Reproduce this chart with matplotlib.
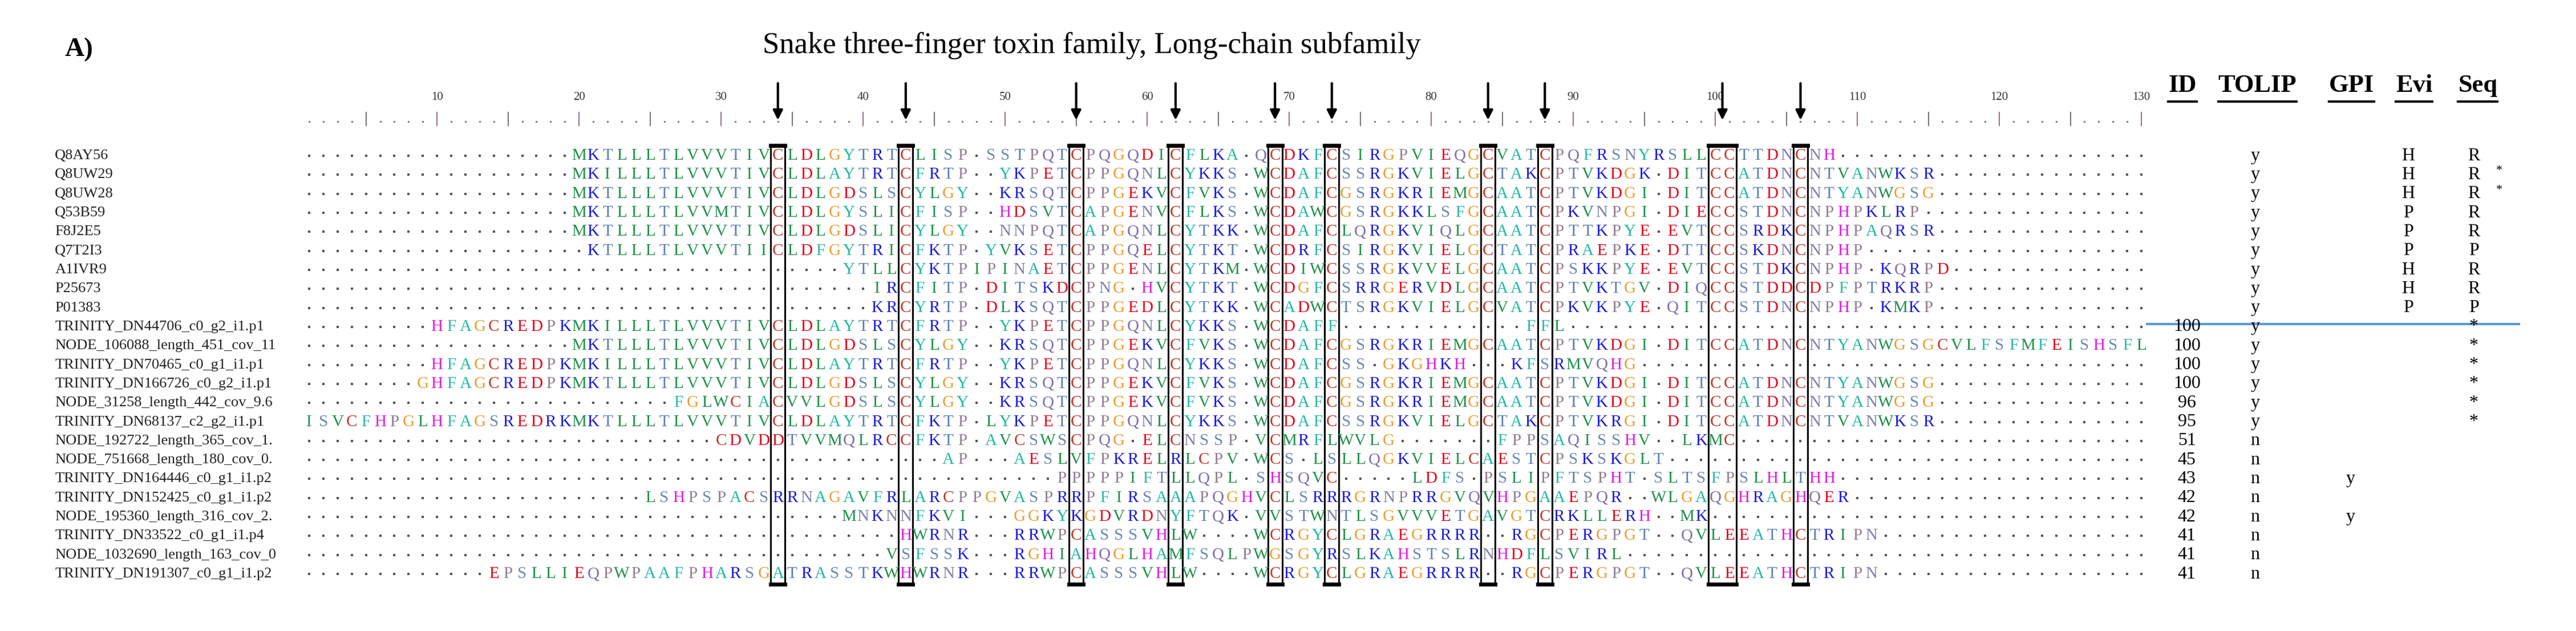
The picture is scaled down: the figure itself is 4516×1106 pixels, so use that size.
import matplotlib.pyplot as plt
from matplotlib.patches import Rectangle

plt.rcParams['font.family'] = ['Liberation Serif', 'DejaVu Serif']

title = "Snake three-finger toxin family, Long-chain subfamily"
panel = "A)"

names = [
    "Q8AY56", "Q8UW29", "Q8UW28", "Q53B59", "F8J2E5", "Q7T2I3", "A1IVR9", "P25673", "P01383",
    "TRINITY_DN44706_c0_g2_i1.p1", "NODE_106088_length_451_cov_11",
    "TRINITY_DN70465_c0_g1_i1.p1", "TRINITY_DN166726_c0_g2_i1.p1",
    "NODE_31258_length_442_cov_9.6", "TRINITY_DN68137_c2_g2_i1.p1",
    "NODE_192722_length_365_cov_1.", "NODE_751668_length_180_cov_0.",
    "TRINITY_DN164446_c0_g1_i1.p2", "TRINITY_DN152425_c0_g1_i1.p2",
    "NODE_195360_length_316_cov_2.", "TRINITY_DN33522_c0_g1_i1.p4",
    "NODE_1032690_length_163_cov_0", "TRINITY_DN191307_c0_g1_i1.p2",
]

seqs = [
    "." * 19 + "MKTLLLTLVVVTIVCLDLGYTRTCLISP-SSTPQTCPQGQDICFLKA-QCDKFCSIRGPVIEQGCVATCPQFRSNYRSLLCCTTDNCNH",
    "." * 19 + "MKILLLTLVVVTIVCLDLAYTRTCFRTP--YKPETCPPGQNLCYKKS-WCDAFCSSRGKVIELGCTAKCPTVKDGK-DITCCATDNCNTVANWKSR",
    "." * 19 + "MKTLLLTLVVVTIVCLDLGDSLSCYLGY--KRSQTCPPGEKVCFVKS-WCDAFCGSRGKRIEMGCAATCPTVKDGI-DITCCATDNCNTYANWGSG",
    "." * 19 + "MKTLLLTLVVMTIVCLDLGYSLICFISP--HDSVTCAPGENVCFLKS-WCDAWCGSRGKKLSFGCAATCPKVNPGI-DIECCSTDNCNPHPKLRP",
    "." * 19 + "MKTLLLTLVVVTIVCLDLGDSLICYLGY--NNPQTCAPGQNLCYTKK-WCDAFCLQRGKVIQLGCAATCPTTKPYE-EVTCCSRDKCNPHPAQRSR",
    "." * 20 + "KTLLLTLVVVTIICLDFGYTRICFKTP-YVKSETCPPGQELCYTKT-WCDRFCSIRGKVIELGCTATCPRAEPKE-DTTCCSKDNCNPHP",
    "." * 38 + "YTLLCYKTPIPINAETCPPGENLCYTKM-WCDIWCSSRGKVVELGCAATCPSKKPYE-EVTCCSTDKCNPHP-KQRPD",
    "." * 40 + "IRCFITP-DITSKDCPNG-HVCYTKT-WCDGFCSRRGERVDLGCAATCPTVKTGV-DIQCCSTDDCDPFPTRKRP",
    "." * 40 + "KRCYRTP-DLKSQTCPPGEDLCYTKK-WCADWCTSRGKVIELGCVATCPKVKPYE-QITCCSTDNCNPHP-KMKP",
    "." * 9 + "HFAGCREDPKMKILLLTLVVVTIVCLDLAYTRTCFRTP--YKPETCPPGQNLCYKKS-WCDAFF" + "." * 13 + "FFL",
    "." * 19 + "MKTLLLTLVVVTIVCLDLGDSLSCYLGY--KRSQTCPPGEKVCFVKS-WCDAFCGSRGKRIEMGCAATCPTVKDGI-DITCCATDNCNTYANWGSGCVLFSFMFEISHSFL",
    "." * 9 + "HFAGCREDPKMKILLLTLVVVTIVCLDLAYTRTCFRTP--YKPETCPPGQNLCYKKS-WCDAFCSS-GKGHKH---KFSRMVQHG",
    "." * 8 + "GHFAGCREDPKMKTLLLTLVVVTIVCLDLGDSLSCYLGY--KRSQTCPPGEKVCFVKS-WCDAFCGSRGKRIEMGCAATCPTVKDGI-DITCCATDNCNTYANWGSG",
    "." * 26 + "FGLWCIACVVLGDSLSCYLGY--KRSQTCPPGEKVCFVKS-WCDAFCGSRGKRIEMGCAATCPTVKDGI-DITCCATDNCNTYANWGSG",
    "ISVCFHPGLHFAGSREDRKMKTLLLTLVVVTIVCLDLAYTRTCFKTP-LYKPETCPPGQNLCYKKS-WCDAFCSSRGKVIELGCTAKCPTVKRGI-DITCCATDNCNTVANWKSR",
    "." * 29 + "CDVDDTVVMQLRCCFKTP-AVCSWSCPQG-ELCNSSP-VCMRFLWVLG-------FPPSAQISSHV--LKMC",
    "." * 45 + "AP---AESLVFPKRELRLCPV-WCS-LSLLQGKVIELCAESTCPSKSKGLT",
    "." * 53 + "PPPPPIFTLLQPL-SHSQVC-----LDFS-PSLIPFTSPHT-SLTSFPSLHLTHH",
    "." * 24 + "LSHPSPACSRRNAGAVFRLARCPPGVASPRRPFIRSAAAPQGHVCLSRRRGRNPRRGVQVHPGAAEPQR--WLGAQGHRAGHQER",
    "." * 38 + "MNKNNFKVI---GGKYKGDVRDNYFTQK-VVSTWNTLSGVVVETGAVGTCRKLLERH--MK",
    "." * 42 + "HWRNR---RRWPCASSSVHLW----WCRGYCLGRAEGRRRR--RGCPERGPGT--QVLEEATHCTRIPN",
    "." * 41 + "VSFSSK---RGHIAHQGLHAMFSQLPWGSGYRSLKAHSTSLRNHDFLSVIRL",
    "." * 13 + "EPSLLIEQPWPAAFPHARSGATRASSTKWHWRNR---RRWPCASSSVHLW----WCRGYCLGRAEGRRRR--RGCPERGPGT--QVLEEATHCTRIPN",
]
n_cols = 130
seqs = [(s + "." * n_cols)[:n_cols] for s in seqs]

cys_cols = [34, 43, 55, 62, 69, 73, 84, 88, 100, 106]
cys_widths = [1, 1, 1, 1, 1, 1, 1, 1, 2, 1]

id_vals = [""] * 9 + ["100", "100", "100", "100", "96", "95", "51", "45", "43", "42", "42", "41", "41", "41"]
tolip = ["y"] * 15 + ["n"] * 8
gpi = [""] * 17 + ["y", "", "y", "", "", ""]
evi = ["H", "H", "H", "P", "P", "P", "H", "H", "P"] + [""] * 14
seq_ev = ["R", "R", "R", "R", "R", "P", "R", "R", "P"] + ["*"] * 6 + [""] * 8
seq_star = ["", "*", "*"] + [""] * 20
headers = ["ID", "TOLIP", "GPI", "Evi", "Seq"]
header_cols = [131.9, 135.4, 143.2, 147.9, 152.3]
value_cols = [133.2, 138.0, 144.7, 148.8, 153.4]

colors = {
    "C": "#c0392b", "D": "#e3001b", "E": "#e3001b", "K": "#1a1adb", "R": "#1a1adb",
    "H": "#e020e0", "G": "#e8a030", "A": "#20b8a0", "F": "#30b8a8", "Y": "#20b8a0",
    "L": "#20904a", "I": "#20904a", "V": "#20904a", "M": "#20904a", "W": "#20904a",
    "T": "#5a7fb0", "S": "#6a88b0", "N": "#8080a8", "Q": "#8070a8", "P": "#908090",
}

fig = plt.figure(figsize=(45.16, 11.06), dpi=100)
ax = fig.add_axes([0, 0, 1, 1])
ax.set_xlim(-20.77, 160.6)
ax.set_ylim(26.0, -7.2)
ax.axis("off")

ax.text(-16.2, -4.6, panel, fontsize=34, fontweight="bold", va="center", ha="left")
ax.text(56.1, -4.8, title, fontsize=38, va="center", ha="center")

# ruler
for c in range(1, n_cols + 1):
    if c % 10 == 0:
        ax.plot([c, c], [-0.6, -1.3], color="#a07090", lw=1.5)
        ax.text(c, -1.8, str(c), fontsize=15, ha="center", va="bottom", color="#333333")
    elif c % 5 == 0:
        ax.plot([c, c], [-0.6, -1.3], color="#777777", lw=1.5)
    else:
        ax.plot([c], [-0.8], marker="s", ms=1.6, color="#888888")

# residues
for r, (name, s) in enumerate(zip(names, seqs)):
    y = r + 1
    ax.text(-16.9, y, name, fontsize=19, va="center", ha="left", color="#222222")
    gx = [c + 1 for c, ch in enumerate(s) if ch in ".-"]
    ax.scatter(gx, [y] * len(gx), marker="s", s=6, color="#555555", lw=0)
    for c, ch in enumerate(s):
        if ch not in ".-":
            ax.text(c + 1, y, ch, fontsize=21, ha="center", va="center", color=colors.get(ch, "#444444"))

# cysteine boxes and arrows
for c, w in zip(cys_cols, cys_widths):
    ax.add_patch(Rectangle((c - 0.5, 0.45), w, len(names) + 0.1, fill=False, ec="black", lw=2.2))
    ax.plot([c - 0.5, c - 0.5 + w], [0.45, 0.45], color="black", lw=5)
    ax.plot([c - 0.5, c - 0.5 + w], [len(names) + 0.55, len(names) + 0.55], color="black", lw=5)
    xm = c - 0.5 + w / 2
    ax.annotate("", xy=(xm, -0.8), xytext=(xm, -2.9),
                arrowprops=dict(arrowstyle="-|>", color="black", lw=3, mutation_scale=25))

# right-hand table
for h, hc in zip(headers, header_cols):
    ax.text(hc, -2.7, h, fontsize=32, fontweight="bold", ha="left", va="center")
fig.canvas.draw()
for t in ax.texts[-5:]:
    bb = t.get_window_extent().transformed(ax.transData.inverted())
    ax.plot([bb.x0, bb.x1], [-1.85, -1.85], color="black", lw=3)

for r in range(len(names)):
    y = r + 1
    ax.text(value_cols[0], y, id_vals[r], fontsize=23, ha="center", va="center")
    ax.text(value_cols[1], y, tolip[r], fontsize=23, ha="center", va="center")
    ax.text(value_cols[2], y, gpi[r], fontsize=23, ha="center", va="center")
    ax.text(value_cols[3], y, evi[r], fontsize=23, ha="center", va="center")
    ax.text(value_cols[4], y, seq_ev[r], fontsize=23, ha="center", va="center")
    ax.text(value_cols[4] + 1.8, y - 0.2, seq_star[r], fontsize=16, ha="center", va="center")

ax.plot([130.4, 156.6], [9.85, 9.85], color="#5b9bd5", lw=3)

fig.savefig("out.png", dpi=100)
